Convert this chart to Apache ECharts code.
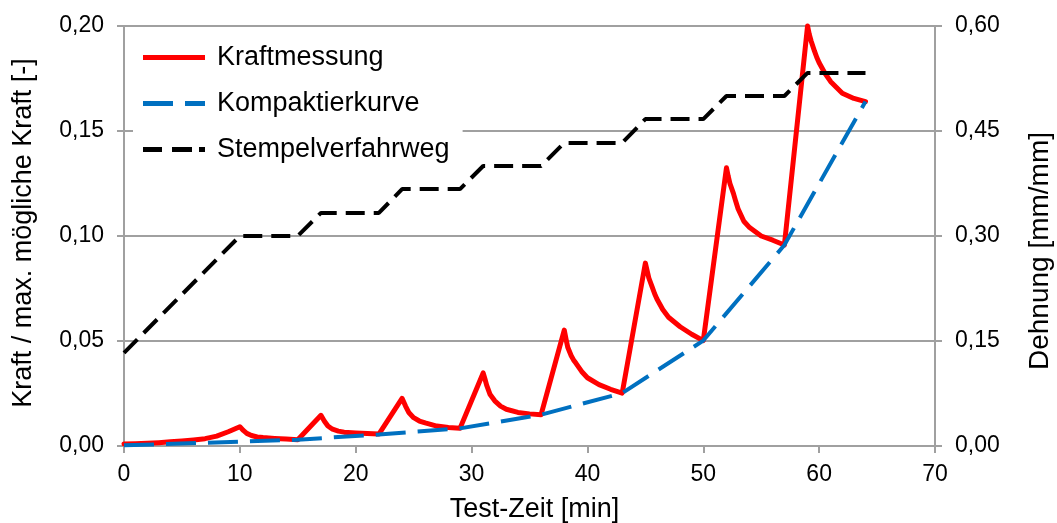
<!DOCTYPE html>
<html>
<head>
<meta charset="utf-8">
<script src="https://cdn.jsdelivr.net/npm/echarts@6/dist/echarts.min.js"></script>
<style>
html,body{margin:0;padding:0;background:#fff;overflow:hidden;}
#c{width:1057px;height:523px;}
</style>
</head>
<body>
<div id="c"></div>
<script>
// Test time [min] and force ratio [-] (Kraftmessung)
var kraftX = [0,1,2,3,4,5,6,7,8,9,10,10.3,10.6,11,11.5,12,13,14,15,
  17,17.3,17.6,18,18.5,19,20,21,22,
  24,24.3,24.6,25,25.5,26,27,28,29,
  31,31.15,31.3,31.6,32,32.5,33,34,35,36,
  38,38.15,38.3,38.6,38.8,39,39.5,40,41,42,43,
  45,45.15,45.3,45.6,45.8,46,46.5,47,48,49,50,
  52,52.15,52.3,52.6,52.8,53,53.5,54,55,56,57,
  59,59.15,59.3,59.6,59.8,60,60.5,61,62,63,64];
var kraftY = [0.0010,0.0011,0.0013,0.0016,0.0020,0.0024,0.0029,0.0035,0.0047,0.0068,0.0092,0.0074,0.0060,0.0050,0.0043,0.0040,0.0036,0.0033,0.0030,
  0.0146,0.0118,0.0095,0.0080,0.0071,0.0066,0.0062,0.0059,0.0057,
  0.0227,0.0190,0.0158,0.0135,0.0119,0.0110,0.0095,0.0088,0.0084,
  0.0348,0.0320,0.0290,0.0245,0.0215,0.0190,0.0175,0.0160,0.0153,0.0149,
  0.0552,0.0510,0.0470,0.0430,0.0410,0.0395,0.0355,0.0325,0.0292,0.0270,0.0252,
  0.0871,0.0835,0.0800,0.0755,0.0725,0.0700,0.0650,0.0613,0.0568,0.0532,0.0502,
  0.1325,0.1285,0.1250,0.1203,0.1165,0.1130,0.1070,0.1040,0.1000,0.0980,0.0957,
  0.2000,0.1960,0.1930,0.1880,0.1850,0.1825,0.1775,0.1735,0.1680,0.1655,0.1640];

// Kompaktierkurve
var kompX = [0,15,22,29,36,43,50,57,64];
var kompY = [0.0003,0.0030,0.0055,0.0084,0.0149,0.0252,0.0502,0.0957,0.1640];

// Stempelverfahrweg, Dehnung [mm/mm]
var stempelX = [0,10,15,17,22,24,29,31,36,38,43,45,50,52,57,59,64];
var stempelY = [0.133,0.300,0.300,0.333,0.333,0.367,0.367,0.400,0.400,0.433,0.433,0.467,0.467,0.500,0.500,0.533,0.533];

var seriesNames = ['Kraftmessung','Kompaktierkurve','Stempelverfahrweg'];
var xTitle = 'Test-Zeit [min]';
var yLeftTitle = 'Kraft / max. mögliche Kraft [-]';
var yRightTitle = 'Dehnung [mm/mm]';

function pairs(xs, ys){ return xs.map(function(x,i){ return [x, ys[i]]; }); }
function fmt(v){ return v.toFixed(2).replace('.', ','); }

var FONT = '"Liberation Sans", Arial, sans-serif';
var GRAY = '#a0a0a0';

var chart = echarts.init(document.getElementById('c'), null, {renderer:'canvas'});
chart.setOption({
  animation:false,
  backgroundColor:'#fff',
  textStyle:{fontFamily:FONT},
  grid:{left:124,top:26,width:811,height:420,containLabel:false,outerBoundsMode:'none'},
  legend:{
    orient:'vertical', left:133, top:35,
    padding:[9,13,9,10],
    backgroundColor:'#fff',
    itemWidth:62, itemHeight:5, itemGap:19,
    textStyle:{fontSize:27,color:'#000',fontFamily:FONT,padding:[0,0,0,7]},
    data:[
      {name:seriesNames[0], icon:'path://M0,0H62V5H0Z'},
      {name:seriesNames[1], icon:'path://M0,0H30V5H0Z M42,0H62V5H42Z'},
      {name:seriesNames[2], icon:'path://M0,0H19V5H0Z M29,0H49V5H29Z M56,0H62V5H56Z'}
    ]
  },
  xAxis:{
    type:'value', min:0, max:70, interval:10,
    name:xTitle, nameLocation:'middle', nameGap:50,
    nameTextStyle:{fontSize:27,color:'#000',fontFamily:FONT,padding:[0,0,0,10]},
    axisLine:{show:true,lineStyle:{color:GRAY,width:2}},
    axisTick:{show:true,length:7,lineStyle:{color:GRAY,width:2}},
    axisLabel:{fontSize:23,color:'#000',margin:17,fontFamily:FONT},
    splitLine:{show:false}
  },
  yAxis:[{
    type:'value', min:0, max:0.2, interval:0.05, position:'left',
    name:yLeftTitle, nameLocation:'middle', nameGap:87, nameRotate:90,
    nameTextStyle:{fontSize:27,color:'#000',fontFamily:FONT,padding:[0,0,0,6]},
    axisLine:{show:true,lineStyle:{color:GRAY,width:2}},
    axisTick:{show:true,length:7,lineStyle:{color:GRAY,width:2}},
    axisLabel:{fontSize:23,color:'#000',margin:20,formatter:fmt,fontFamily:FONT},
    splitLine:{show:true,lineStyle:{color:GRAY,width:2}}
  },{
    type:'value', min:0, max:0.6, interval:0.15, position:'right',
    name:yRightTitle, nameLocation:'middle', nameGap:91, nameRotate:90,
    nameTextStyle:{fontSize:28,color:'#000',fontFamily:FONT,padding:[0,30,0,0]},
    axisLine:{show:true,lineStyle:{color:GRAY,width:2}},
    axisTick:{show:true,length:7,lineStyle:{color:GRAY,width:2}},
    axisLabel:{fontSize:23,color:'#000',margin:20,formatter:fmt,fontFamily:FONT},
    splitLine:{show:false}
  }],
  series:[{
    name:seriesNames[0], type:'line', yAxisIndex:0, data:pairs(kraftX,kraftY),
    showSymbol:false, symbol:'none', clip:false,
    lineStyle:{color:'#ff0000',width:5,join:'round',cap:'round'}, itemStyle:{color:'#ff0000'}
  },{
    name:seriesNames[1], type:'line', yAxisIndex:0, data:pairs(kompX,kompY),
    showSymbol:false, symbol:'none', clip:false,
    lineStyle:{color:'#0070c0',width:4,type:[30,12]}, itemStyle:{color:'#0070c0'}
  },{
    name:seriesNames[2], type:'line', yAxisIndex:1, data:pairs(stempelX,stempelY),
    showSymbol:false, symbol:'none', clip:false,
    lineStyle:{color:'#000000',width:4,type:[19,9]}, itemStyle:{color:'#000000'}
  }]
});
</script>
</body>
</html>
